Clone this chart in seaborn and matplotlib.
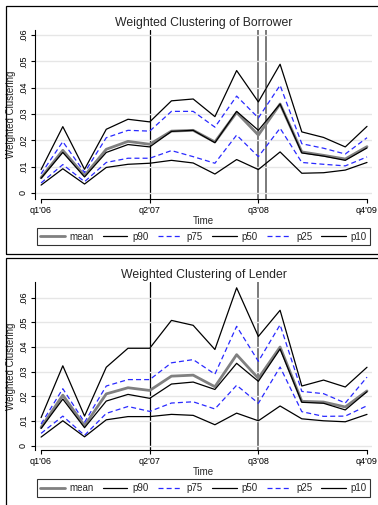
import matplotlib
matplotlib.use("Agg")
import matplotlib.pyplot as plt
import seaborn as sns
import numpy as np
import pandas as pd
from matplotlib.patches import Rectangle

sns.set_theme(style="white")
plt.rcParams['font.family'] = ['Liberation Sans', 'DejaVu Sans']

quarters = ["q1'06", "q2'06", "q3'06", "q4'06", "q1'07", "q2'07", "q3'07", "q4'07",
            "q1'08", "q2'08", "q3'08", "q4'08", "q1'09", "q2'09", "q3'09", "q4'09"]
shown_ticks = ["q1'06", "q2'07", "q3'08", "q4'09"]
series_names = ["mean", "p90", "p75", "p50", "p25", "p10"]

# Borrower
b_mean = [0.0058, 0.0162, 0.0066, 0.0166, 0.0196, 0.0185, 0.0235, 0.0238, 0.0194, 0.0306, 0.0220, 0.0338, 0.0156, 0.0143, 0.0129, 0.0176]
b_p90 = [0.0089, 0.0252, 0.0090, 0.0242, 0.0280, 0.0270, 0.0350, 0.0357, 0.0290, 0.0465, 0.0346, 0.0489, 0.0232, 0.0211, 0.0175, 0.0253]
b_p75 = [0.0073, 0.0195, 0.0078, 0.0210, 0.0238, 0.0235, 0.0310, 0.0310, 0.0250, 0.0368, 0.0285, 0.0409, 0.0187, 0.0170, 0.0148, 0.0210]
b_p50 = [0.0056, 0.0154, 0.0061, 0.0154, 0.0184, 0.0175, 0.0234, 0.0238, 0.0191, 0.0310, 0.0238, 0.0338, 0.0152, 0.0140, 0.0124, 0.0171]
b_p25 = [0.0038, 0.0108, 0.0043, 0.0116, 0.0132, 0.0132, 0.0161, 0.0138, 0.0113, 0.0220, 0.0138, 0.0246, 0.0116, 0.0109, 0.0103, 0.0137]
b_p10 = [0.0030, 0.0092, 0.0034, 0.0097, 0.0109, 0.0113, 0.0124, 0.0114, 0.0072, 0.0127, 0.0089, 0.0156, 0.0075, 0.0077, 0.0087, 0.0116]

# Lender
l_mean = [0.0074, 0.0205, 0.0081, 0.0210, 0.0235, 0.0224, 0.0282, 0.0286, 0.0239, 0.0369, 0.0273, 0.0400, 0.0180, 0.0177, 0.0157, 0.0222]
l_p90 = [0.0114, 0.0324, 0.0120, 0.0318, 0.0395, 0.0395, 0.0508, 0.0488, 0.0390, 0.0640, 0.0443, 0.0549, 0.0242, 0.0266, 0.0238, 0.0318]
l_p75 = [0.0088, 0.0231, 0.0095, 0.0242, 0.0268, 0.0268, 0.0336, 0.0349, 0.0290, 0.0484, 0.0342, 0.0490, 0.0220, 0.0211, 0.0173, 0.0278]
l_p50 = [0.0070, 0.0189, 0.0073, 0.0181, 0.0208, 0.0192, 0.0250, 0.0258, 0.0228, 0.0334, 0.0261, 0.0392, 0.0176, 0.0172, 0.0145, 0.0219]
l_p25 = [0.0050, 0.0120, 0.0042, 0.0131, 0.0159, 0.0139, 0.0173, 0.0178, 0.0149, 0.0245, 0.0172, 0.0319, 0.0138, 0.0119, 0.0120, 0.0162]
l_p10 = [0.0035, 0.0101, 0.0036, 0.0105, 0.0118, 0.0118, 0.0127, 0.0123, 0.0085, 0.0132, 0.0101, 0.0161, 0.0109, 0.0101, 0.0097, 0.0127]

b_vlines = [5, 10, 10.37]
l_vlines = [5, 10]

styles = {
    "mean": dict(color="#808080", lw=2.0, ls="-"),
    "p90": dict(color="black", lw=0.9, ls="-"),
    "p75": dict(color="#2a2aff", lw=0.9, ls=(0, (4, 2.5))),
    "p50": dict(color="black", lw=0.9, ls="-"),
    "p25": dict(color="#2a2aff", lw=0.9, ls=(0, (4, 2.5))),
    "p10": dict(color="black", lw=0.9, ls="-"),
}

W, H = 378, 505
fig = plt.figure(figsize=(W / 100, H / 100), dpi=100)

def px_axes(left, top, right, bottom):
    return fig.add_axes([left / W, 1 - bottom / H, (right - left) / W, (bottom - top) / H])

# panel frames
for (x0, y0, x1, y1) in [(6, 6, 390, 254), (6, 258, 390, 520)]:
    fig.patches.append(Rectangle((x0 / W, 1 - y1 / H), (x1 - x0) / W, (y1 - y0) / H,
                                 transform=fig.transFigure, fill=False, ec="black", lw=0.9))

def panel(ax, data, vlines, title, ylim, legend_y):
    x = np.arange(len(quarters))
    for name, vals in zip(series_names, data):
        st = styles[name]
        sns.lineplot(x=x, y=vals, ax=ax, color=st["color"], lw=st["lw"], linestyle=st["ls"],
                     label=name, legend=False)
    for i, v in enumerate(vlines):
        if v == 5:
            ax.axvline(v, color="black", lw=0.9, zorder=0.5)
        else:
            ax.axvline(v, color="#7a7a7a", lw=1.4, zorder=0.5)
    ax.set_xlim(-0.28, 15.23)
    ax.set_ylim(*ylim)
    yt = [0, 0.01, 0.02, 0.03, 0.04, 0.05, 0.06]
    ax.set_yticks(yt)
    ax.set_yticklabels(["0", ".01", ".02", ".03", ".04", ".05", ".06"], rotation=90, va="center")
    ax.yaxis.grid(True, color="#e6e6e6", lw=1.0)
    ax.set_axisbelow(True)
    tick_pos = [quarters.index(t) for t in shown_ticks]
    ax.set_xticks(tick_pos)
    ax.set_xticklabels(shown_ticks)
    for s in ["top", "right"]:
        ax.spines[s].set_visible(False)
    ax.spines["left"].set_color("black")
    ax.spines["bottom"].set_color("black")
    ax.spines["left"].set_linewidth(0.8)
    ax.spines["bottom"].set_linewidth(0.8)
    ax.spines["bottom"].set_bounds(0, 15)
    ax.tick_params(axis="both", which="both", direction="out", length=3, width=0.8,
                   labelsize=6.5, colors="black", pad=2, bottom=True, left=True)
    ax.set_xlabel("Time", fontsize=7, labelpad=1)
    ax.set_ylabel("Weighted Clustering", fontsize=7, labelpad=2)
    ax.set_title(title, fontsize=8.8, pad=3)
    handles, labels = ax.get_legend_handles_labels()
    leg = ax.legend(handles, labels, ncol=6, loc="center", bbox_to_anchor=(0.5, legend_y),
                    frameon=True, fancybox=False, edgecolor="black", fontsize=7,
                    handlelength=2.5, handletextpad=0.5, columnspacing=0.95,
                    borderpad=0.4, borderaxespad=0)
    leg.get_frame().set_linewidth(0.8)

ax1 = px_axes(35, 30, 372, 199)
panel(ax1, [b_mean, b_p90, b_p75, b_p50, b_p25, b_p10], b_vlines,
      "Weighted Clustering of Borrower", (-0.00228, 0.0619), -0.222)

ax2 = px_axes(35, 282, 372, 450)
panel(ax2, [l_mean, l_p90, l_p75, l_p50, l_p25, l_p10], l_vlines,
      "Weighted Clustering of Lender", (-0.00174, 0.06636), -0.226)

fig.savefig("out.png", dpi=100)
